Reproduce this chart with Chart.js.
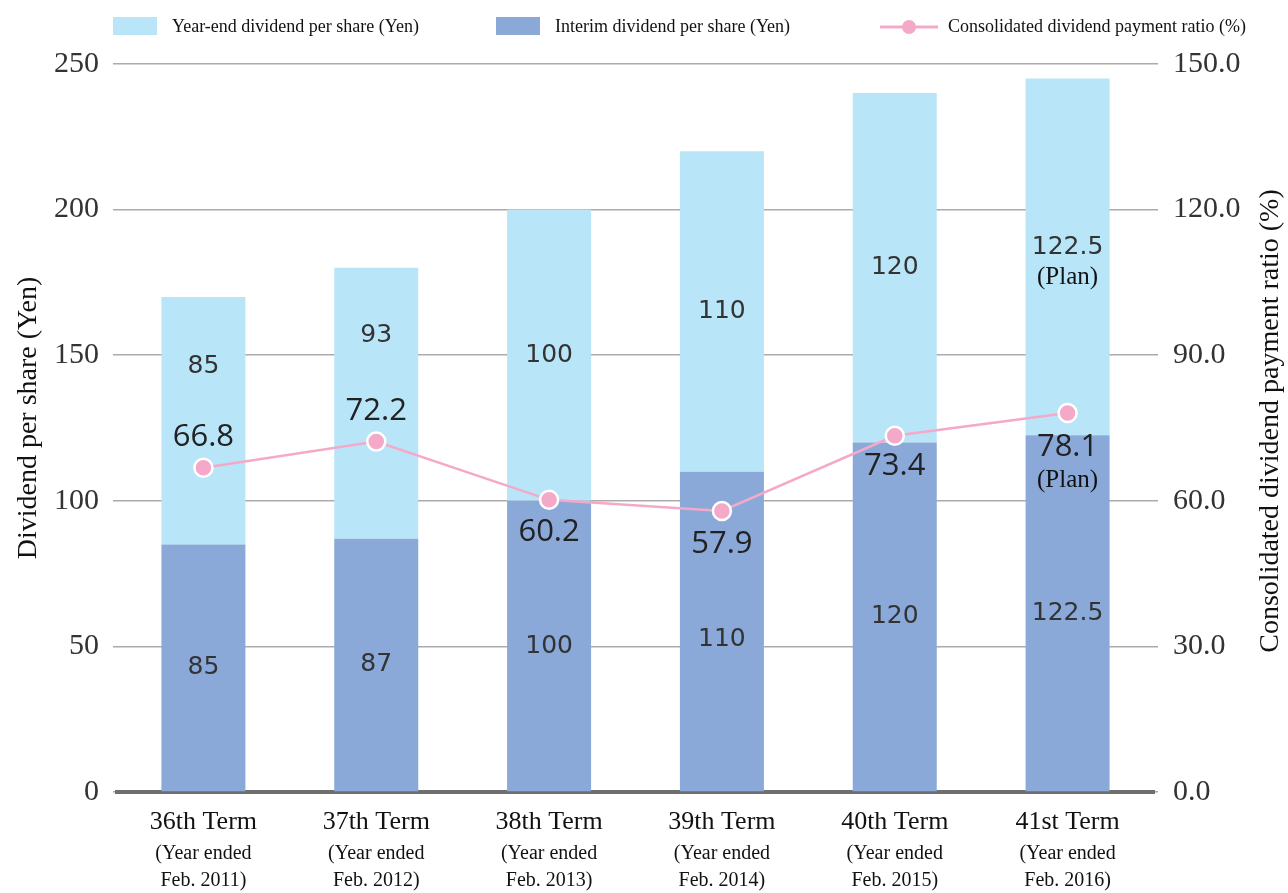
<!DOCTYPE html>
<html>
<head>
<meta charset="utf-8">
<script src="https://cdn.jsdelivr.net/npm/chart.js@4/dist/chart.umd.min.js"></script>
<style>
  html, body { margin: 0; padding: 0; background: #fff; }
  #wrap { width: 1288px; height: 893px; }
</style>
</head>
<body>
<div id="wrap"><canvas id="chart" width="1288" height="893"></canvas></div>
<script>
// ---- data ----
const terms = ['36th Term', '37th Term', '38th Term', '39th Term', '40th Term', '41st Term'];
const termSubLine = ['(Year ended', '(Year ended', '(Year ended', '(Year ended', '(Year ended', '(Year ended'];
const termYears = ['Feb. 2011)', 'Feb. 2012)', 'Feb. 2013)', 'Feb. 2014)', 'Feb. 2015)', 'Feb. 2016)'];
const interimDividend = [85, 87, 100, 110, 120, 122.5];
const yearEndDividend = [85, 93, 100, 110, 120, 122.5];
const payoutRatio = [66.8, 72.2, 60.2, 57.9, 73.4, 78.1];
const isPlan = [false, false, false, false, false, true];
const yenTicks = [0, 50, 100, 150, 200, 250];
const ratioTicks = [0, 30, 60, 90, 120, 150];

// ---- label placement (pixel nudges) ----
const yearEndLabelNudge = [-54, -68, 0, 0, 0, -9];
const interimLabelNudge = [0, 0, 0, 8, 0, 0];
const ratioLabelNudge = [-31, -30, 32, 33, 30, 34];

const COL_YEAREND = '#b9e5f9';
const COL_INTERIM = '#8aa9d9';
const COL_RATIO = '#f4a9c9';
const SERIF = '"Liberation Serif", "Times New Roman", serif';

const fmtRatio = v => v.toFixed(1);
const fmtYen = v => (Number.isInteger(v) ? String(v) : v.toFixed(1));

const labelsPlugin = {
  id: 'dividendLabels',
  afterDatasetsDraw(chart) {
    const ctx = chart.ctx;
    ctx.save();
    ctx.textAlign = 'center';
    ctx.textBaseline = 'middle';

    // values inside the stacked bars
    const interimMeta = chart.getDatasetMeta(0);
    const yearEndMeta = chart.getDatasetMeta(1);
    interimMeta.data.forEach((bar, i) => {
      const mid = (bar.y + bar.base) / 2 + interimLabelNudge[i];
      ctx.font = '25px "DejaVu Sans", sans-serif';
      ctx.fillStyle = '#333';
      ctx.fillText(fmtYen(interimDividend[i]), bar.x, mid);
    });
    yearEndMeta.data.forEach((bar, i) => {
      const mid = (bar.y + bar.base) / 2 + yearEndLabelNudge[i];
      ctx.font = '25px "DejaVu Sans", sans-serif';
      ctx.fillStyle = '#333';
      ctx.fillText(fmtYen(yearEndDividend[i]), bar.x, mid);
      if (isPlan[i]) {
        ctx.font = '25px ' + SERIF;
        ctx.fillStyle = '#111';
        ctx.fillText('(Plan)', bar.x, mid + 30);
      }
    });

    // payout ratio values next to the points
    const lineMeta = chart.getDatasetMeta(2);
    lineMeta.data.forEach((pt, i) => {
      const y = pt.y + ratioLabelNudge[i];
      ctx.font = '31px "Open Sans", sans-serif';
      ctx.fillStyle = '#222';
      ctx.fillText(fmtRatio(payoutRatio[i]), pt.x, y);
      if (isPlan[i]) {
        ctx.font = '25px ' + SERIF;
        ctx.fillStyle = '#111';
        ctx.fillText('(Plan)', pt.x, y + 33);
      }
    });
    ctx.restore();
  },
  afterDraw(chart) {
    const ctx = chart.ctx;
    const xScale = chart.scales.x;
    ctx.save();
    ctx.textAlign = 'center';
    ctx.textBaseline = 'middle';
    ctx.fillStyle = '#111';

    // category labels (three lines)
    terms.forEach((t, i) => {
      const x = xScale.getPixelForValue(i);
      ctx.font = '26px ' + SERIF;
      ctx.fillText(t, x, 822);
      ctx.font = '20px ' + SERIF;
      ctx.fillText(termSubLine[i], x, 854);
      ctx.fillText(termYears[i], x, 881);
    });

    // axis titles
    ctx.font = '28px ' + SERIF;
    ctx.save();
    ctx.translate(29, 418);
    ctx.rotate(-Math.PI / 2);
    ctx.fillText('Dividend per share (Yen)', 0, 0);
    ctx.restore();
    ctx.save();
    ctx.translate(1271, 421);
    ctx.rotate(-Math.PI / 2);
    ctx.fillText('Consolidated dividend payment ratio (%)', 0, 0);
    ctx.restore();

    // legend
    ctx.textAlign = 'left';
    ctx.font = '18px ' + SERIF;
    ctx.fillStyle = COL_YEAREND;
    ctx.fillRect(113, 17, 44, 18);
    ctx.fillStyle = '#111';
    ctx.fillText(chart.data.datasets[1].label, 172, 27);
    ctx.fillStyle = COL_INTERIM;
    ctx.fillRect(496, 17, 44, 18);
    ctx.fillStyle = '#111';
    ctx.fillText(chart.data.datasets[0].label, 555, 27);
    ctx.strokeStyle = COL_RATIO;
    ctx.lineWidth = 3;
    ctx.beginPath();
    ctx.moveTo(880, 27);
    ctx.lineTo(938, 27);
    ctx.stroke();
    ctx.fillStyle = COL_RATIO;
    ctx.beginPath();
    ctx.arc(909, 27, 7, 0, Math.PI * 2);
    ctx.fill();
    ctx.fillStyle = '#111';
    ctx.fillText(chart.data.datasets[2].label, 948, 27);
    ctx.restore();
  }
};

new Chart(document.getElementById('chart'), {
  data: {
    labels: terms,
    datasets: [
      {
        type: 'bar',
        label: 'Interim dividend per share (Yen)',
        data: interimDividend,
        backgroundColor: COL_INTERIM,
        yAxisID: 'y',
        stack: 'dps',
        order: 1,
        barPercentage: 0.486,
        categoryPercentage: 1.0
      },
      {
        type: 'bar',
        label: 'Year-end dividend per share (Yen)',
        data: yearEndDividend,
        backgroundColor: COL_YEAREND,
        yAxisID: 'y',
        stack: 'dps',
        order: 1,
        barPercentage: 0.486,
        categoryPercentage: 1.0
      },
      {
        type: 'line',
        label: 'Consolidated dividend payment ratio (%)',
        data: payoutRatio,
        yAxisID: 'y1',
        borderColor: COL_RATIO,
        borderWidth: 2.5,
        pointRadius: 9,
        pointBackgroundColor: COL_RATIO,
        pointBorderColor: '#ffffff',
        pointBorderWidth: 2.5,
        tension: 0,
        order: 0
      }
    ]
  },
  options: {
    responsive: false,
    animation: false,
    devicePixelRatio: 1,
    layout: { padding: { top: 64, left: 0, right: 0, bottom: 0 } },
    plugins: {
      legend: { display: false },
      tooltip: { enabled: false },
      title: { display: false }
    },
    scales: {
      x: {
        stacked: true,
        grid: { display: false },
        border: { display: true, width: 4, color: '#6f6f6f' },
        ticks: { display: false },
        afterFit: s => { s.height = 101; }
      },
      y: {
        position: 'left',
        stacked: true,
        min: 0,
        max: 250,
        afterBuildTicks: s => { s.ticks = yenTicks.map(v => ({ value: v })); },
        ticks: {
          font: { family: SERIF, size: 30 },
          color: '#333',
          padding: 14
        },
        grid: { color: '#ababab', lineWidth: 1.5, tickLength: 4, tickColor: '#ababab' },
        border: { display: false },
        afterFit: s => { s.width = 117; }
      },
      y1: {
        position: 'right',
        min: 0,
        max: 150,
        afterBuildTicks: s => { s.ticks = ratioTicks.map(v => ({ value: v })); },
        ticks: {
          font: { family: SERIF, size: 30 },
          color: '#333',
          padding: 15,
          callback: v => Number(v).toFixed(1)
        },
        grid: { drawOnChartArea: false, color: '#ababab', lineWidth: 1.5, tickLength: 4, tickColor: '#ababab' },
        border: { display: false },
        afterFit: s => { s.width = 134; }
      }
    }
  },
  plugins: [labelsPlugin]
});
</script>
</body>
</html>
